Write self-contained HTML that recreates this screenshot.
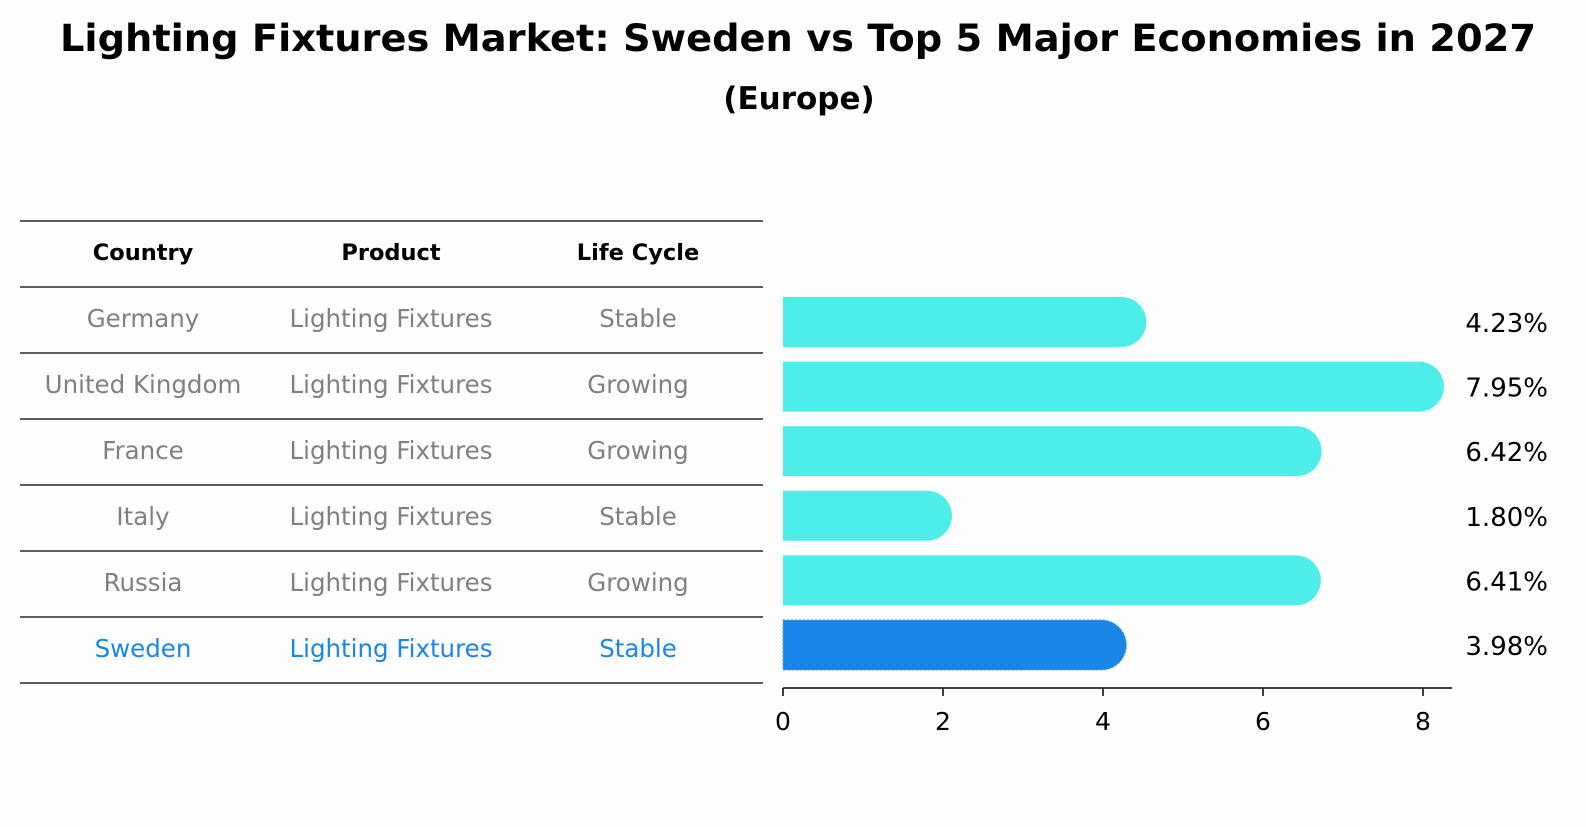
<!DOCTYPE html>
<html><head><meta charset="utf-8"><style>
body{margin:0;width:1586px;height:823px;background:#fdfdfd;font-family:"DejaVu Sans","Liberation Sans",sans-serif;overflow:hidden}
</style></head><body>
<svg width="1586" height="823" xmlns="http://www.w3.org/2000/svg" font-family="DejaVu Sans, Liberation Sans, sans-serif">
<text x="798" y="51" text-anchor="middle" font-size="37" font-weight="bold" textLength="1476" lengthAdjust="spacingAndGlyphs">Lighting Fixtures Market: Sweden vs Top 5 Major Economies in 2027</text>
<text x="799" y="109" text-anchor="middle" font-size="31" font-weight="bold">(Europe)</text>
<g id="table"></g>
<g id="bars"></g>
</svg>
<script>
const countries=["Germany","United Kingdom","France","Italy","Russia","Sweden"];
const products=["Lighting Fixtures","Lighting Fixtures","Lighting Fixtures","Lighting Fixtures","Lighting Fixtures","Lighting Fixtures"];
const lifeCycles=["Stable","Growing","Growing","Stable","Growing","Stable"];
const growth=[4.23,7.95,6.42,1.80,6.41,3.98];
const ticks=[0,2,4,6,8];
const NS="http://www.w3.org/2000/svg";
function mk(t,a,p,txt){const e=document.createElementNS(NS,t);for(const k in a)e.setAttribute(k,a[k]);if(txt!==undefined)e.textContent=txt;p.appendChild(e);return e;}
const tbl=document.getElementById('table');
const rowY=i=>287+i*66;
const colX=[143,391,638];
[["Country",0],["Product",1],["Life Cycle",2]].forEach(([h,c])=>{
 const t=mk('text',{x:colX[c],y:260,'text-anchor':'middle','font-size':22.5,'font-weight':'bold'},tbl,h);
 
 
});
for(let i=0;i<=countries.length+1;i++){
 const y=i===0?221:rowY(i-1);
 const l=mk('line',{x1:20,x2:763,y1:y,y2:y,stroke:'#000','stroke-width':1.2},tbl);
 
 
}
countries.forEach((c,i)=>{
 const col=c==="Sweden"?'#1a86e8':'#808080';
 const y=rowY(i)+40;
 [c,products[i],lifeCycles[i]].forEach((v,j)=>{
  const t=mk('text',{x:colX[j],y:y,'text-anchor':'middle','font-size':24.5,fill:col},tbl,v);
  
  
 });
});
const g=document.getElementById('bars');
const x0=783,sx=80;
const xs=v=>x0+v*sx;
const barY=i=>322+i*64.6;
const bh=50,r=25;
growth.forEach((v,i)=>{
 const sw=countries[i]==="Sweden";
 const c=sw?'#1a86e8':'#4dede9';
 const yc=barY(i);
 const xe=xs(v);
 const a={d:`M${x0},${yc-bh/2} L${xe},${yc-bh/2} A${r},${r} 0 0 1 ${xe},${yc+bh/2} L${x0},${yc+bh/2} Z`,fill:c};
 if(sw){a.stroke='#4a9ef0';a['stroke-dasharray']='2,2';a['stroke-width']=1;}
 const p=mk('path',a,g);
 
 
 const t=mk('text',{x:1548,y:yc+10,'text-anchor':'end','font-size':26},g,v.toFixed(2)+'%');
 
 
});
const ax=mk('line',{x1:x0,x2:1452,y1:688,y2:688,stroke:'#000','stroke-width':1.5},g);


ticks.forEach(tv=>{
 const x=xs(tv);
 const tl=mk('line',{x1:x,x2:x,y1:688,y2:696,stroke:'#000','stroke-width':1.5},g);
 
 
 const t=mk('text',{x:x,y:730,'text-anchor':'middle','font-size':25},g,String(tv));
 
 
});
</script>
</body></html>
